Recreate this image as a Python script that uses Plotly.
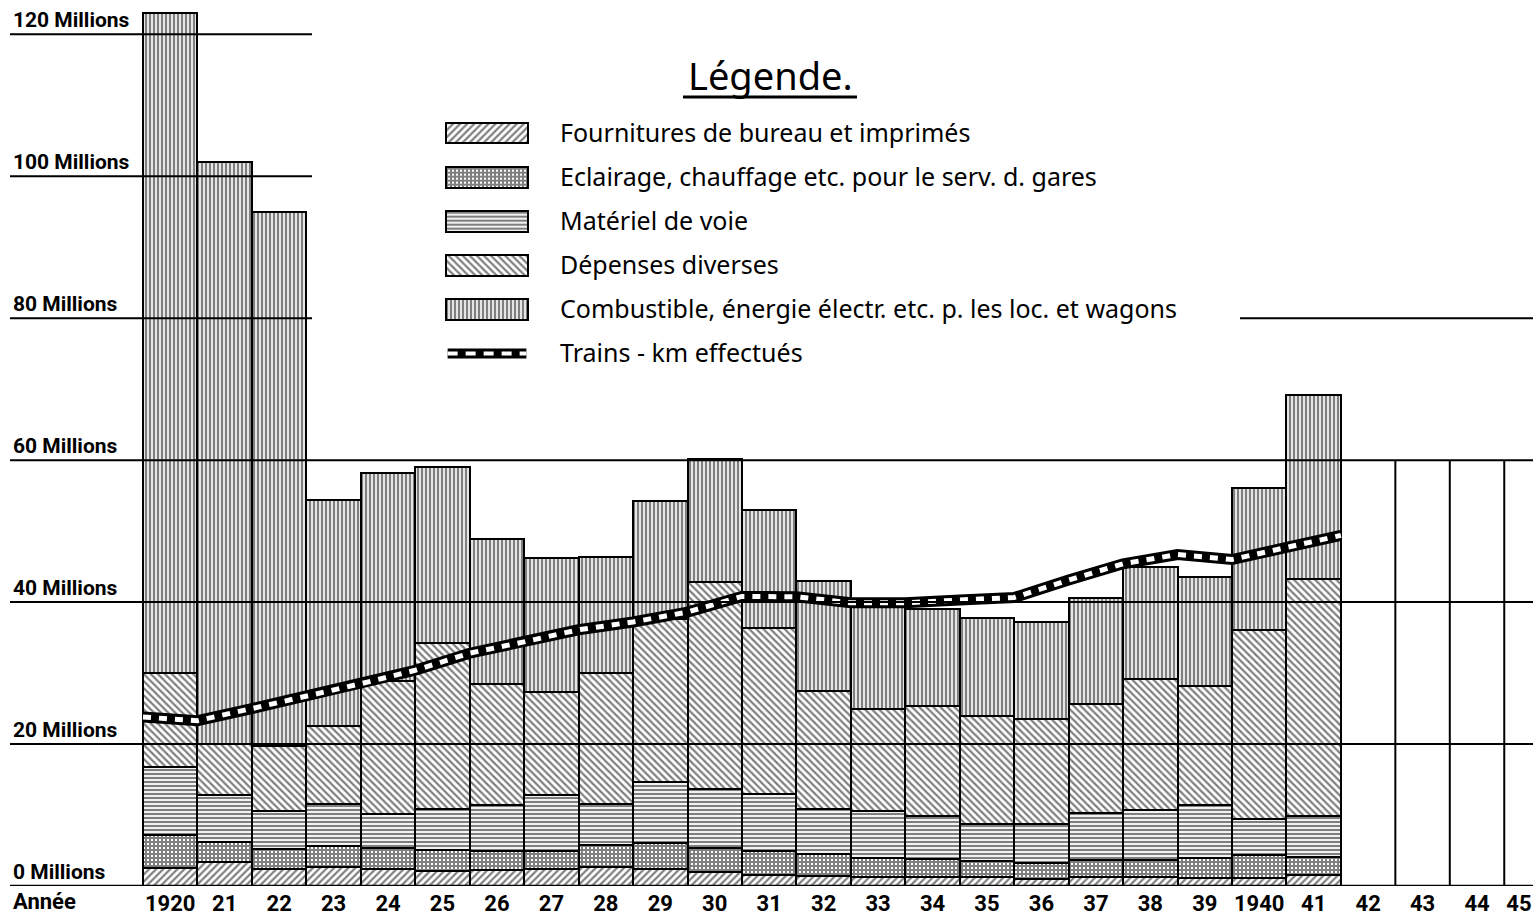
import plotly.graph_objects as go

# ---------------- data (millions) ----------------
years = list(range(1920, 1942))
year_labels = ["1920"] + [str(y)[2:] for y in range(1921, 1940)] + ["1940", "41"]
future_years = [1942, 1943, 1944, 1945]
future_labels = ["42", "43", "44", "45"]

fournitures = [2.6, 3.4, 2.4, 2.7, 2.35, 2.1, 2.25, 2.35, 2.7, 2.35, 2.0,
               1.55, 1.4, 1.3, 1.2, 1.2, 0.95, 1.3, 1.2, 1.1, 1.1, 1.55]
eclairage = [4.6, 2.8, 2.8, 3.0, 2.95, 3.0, 2.65, 2.65, 3.1, 3.75, 3.3,
             3.35, 3.1, 2.7, 2.55, 2.3, 2.25, 2.4, 2.5, 2.8, 3.3, 2.55]
materiel = [9.6, 6.6, 5.3, 5.8, 4.8, 5.8, 6.5, 7.8, 5.7, 8.5, 8.3,
            8.1, 6.4, 6.5, 6.05, 5.3, 5.5, 6.6, 7.0, 7.5, 5.0, 5.7]
depenses = [13.2, 7.2, 9.2, 11.0, 18.8, 23.4, 17.1, 14.6, 18.5, 23.0, 29.2,
            23.3, 16.6, 14.5, 15.6, 15.1, 14.9, 15.4, 18.5, 16.8, 26.7, 33.5]
combustible = [93.0, 82.0, 75.3, 31.9, 29.3, 24.7, 20.4, 18.8, 16.4, 16.7, 17.3,
               16.7, 15.5, 14.3, 13.6, 13.8, 13.6, 14.9, 15.8, 15.4, 20.0, 25.9]

# trains-km, plotted at each year's end (1919 ... 1941), on the same scale
trains_year_end = list(range(1919, 1942))
trains_km = [23.8, 23.3, 25.0, 26.7, 28.5, 30.4, 32.8, 34.4, 36.1, 37.2, 38.6,
             40.8, 40.75, 39.9, 39.9, 40.3, 40.65, 43.1, 45.4, 46.7, 46.0, 47.7, 49.4]

y_ticks = [0, 20, 40, 60, 80, 100, 120]
y_tick_labels = [f"{v} Millions" for v in y_ticks]

names = ["Fournitures de bureau et imprimés",
         "Eclairage, chauffage etc. pour le serv. d. gares",
         "Matériel de voie",
         "Dépenses diverses",
         "Combustible, énergie électr. etc. p. les loc. et wagons"]
trains_name = "Trains - km effectués"

# ---------------- layout geometry ----------------
W, H = 1533, 915
M_B = 29
PLOT_H = H - M_B
PX_PER_YEAR = 54.45
LEFT_EDGE_PX = 143
x_lo = years[0] - 0.5 - LEFT_EDGE_PX / PX_PER_YEAR
x_hi = x_lo + W / PX_PER_YEAR
PX_PER_M = 7.0975
y_hi = PLOT_H / PX_PER_M


def px_x(p):
    return p / W


def px_y(p):
    return (PLOT_H - p) / PLOT_H


styles = [
    dict(shape="/", size=5, solidity=0.45),
    dict(shape="+", size=4, solidity=0.75),
    dict(shape="-", size=4, solidity=0.55),
    dict(shape="\\", size=5, solidity=0.45),
    dict(shape="|", size=4, solidity=0.6),
]
series = [fournitures, eclairage, materiel, depenses, combustible]

fig = go.Figure()
for name, vals, st in zip(names, series, styles):
    fig.add_trace(go.Bar(
        x=years, y=vals, name=name, width=1, showlegend=False,
        marker=dict(color="white",
                    line=dict(color="black", width=2),
                    pattern=dict(shape=st["shape"], fgcolor="black", bgcolor="white",
                                 size=st["size"], solidity=st["solidity"],
                                 fillmode="overlay")),
        hoverinfo="x+y+name"))

trains_x = [y + 0.5 for y in trains_year_end]
fig.add_trace(go.Scatter(x=trains_x, y=trains_km, mode="lines", showlegend=False,
                         line=dict(color="black", width=11), hoverinfo="skip"))
fig.add_trace(go.Scatter(x=trains_x, y=trains_km, mode="lines", name=trains_name,
                         showlegend=False,
                         line=dict(color="white", width=5, dash="8px,8px")))

# ---------------- legend drawn in an inset axis ----------------
legend_rows = names + [trains_name]
for name, st in zip(names, styles):
    fig.add_trace(go.Bar(
        x=[1], y=[name], orientation="h", width=0.47, xaxis="x2", yaxis="y2",
        showlegend=False, hoverinfo="skip",
        marker=dict(color="white", line=dict(color="black", width=2),
                    pattern=dict(shape=st["shape"], fgcolor="black", bgcolor="white",
                                 size=st["size"], solidity=st["solidity"],
                                 fillmode="overlay"))))
fig.add_trace(go.Scatter(x=[0.02, 0.98], y=[trains_name, trains_name], mode="lines",
                         xaxis="x2", yaxis="y2", showlegend=False, hoverinfo="skip",
                         line=dict(color="black", width=10)))
fig.add_trace(go.Scatter(x=[0.02, 0.98], y=[trains_name, trains_name], mode="lines",
                         xaxis="x2", yaxis="y2", showlegend=False, hoverinfo="skip",
                         line=dict(color="white", width=4, dash="10px,8px")))

# ---------------- grid lines drawn over the bars ----------------
shapes = []
grid_extent = {120: [(10, 312)], 100: [(10, 312)], 80: [(10, 312), (1240, W)],
               60: [(10, W)], 40: [(10, W)], 20: [(10, W)], 0: [(10, W)]}
for v in y_ticks:
    for a, b in grid_extent[v]:
        shapes.append(dict(type="line", xref="paper", yref="y", x0=px_x(a), x1=px_x(b),
                           y0=v, y1=v, layer="above",
                           line=dict(color="black", width=2 if v else 2.5)))
# empty columns for the years still to come
for fy in future_years[:-1]:
    shapes.append(dict(type="line", xref="x", yref="y", x0=fy + 0.5, x1=fy + 0.5,
                       y0=0, y1=60, layer="above", line=dict(color="black", width=2)))
# underline of the legend title
shapes.append(dict(type="line", xref="paper", yref="paper", x0=px_x(683), x1=px_x(857),
                   y0=px_y(97), y1=px_y(97), line=dict(color="black", width=3)))

tick_font = dict(family="Roboto, Liberation Sans, sans-serif", size=22, color="black",
                 weight="bold")

fig.update_layout(
    width=W, height=H,
    margin=dict(l=0, r=0, t=0, b=M_B, pad=0),
    paper_bgcolor="white", plot_bgcolor="white",
    barmode="stack", bargap=0,
    shapes=shapes,
    xaxis=dict(range=[x_lo, x_hi], showgrid=False, zeroline=False, showline=False,
               ticks="", tickvals=years + future_years[:-1] + [future_years[-1] - 0.23],
               ticktext=year_labels + future_labels, tickfont=tick_font,
               ticklabelstandoff=2),
    yaxis=dict(range=[0, y_hi], showgrid=False, zeroline=False, showline=False,
               ticks="", tickvals=y_ticks, ticktext=y_tick_labels,
               ticklabelposition="inside top", ticklabelstandoff=10,
               tickfont=dict(family="Roboto, Liberation Sans, sans-serif", size=21,
                             color="black", weight="bold")),
    xaxis2=dict(domain=[px_x(445), px_x(529)], range=[-0.012, 1.012], anchor="y2",
                showgrid=False, zeroline=False, showline=False, showticklabels=False,
                fixedrange=True),
    yaxis2=dict(domain=[px_y(366.3), px_y(110.7)], anchor="x2", type="category",
                categoryarray=legend_rows, categoryorder="array", autorange="reversed",
                side="right", showgrid=False, zeroline=False, showline=False, ticks="",
                ticklabelstandoff=30, fixedrange=True,
                tickfont=dict(family="Noto Sans, sans-serif", size=25, color="black")),
    annotations=[
        dict(text="Légende.", xref="paper", yref="paper", x=px_x(770), y=px_y(75),
             xanchor="center", yanchor="middle", showarrow=False,
             font=dict(family="Noto Sans, sans-serif", size=38, color="black")),
        dict(text="Année", xref="paper", yref="paper", x=px_x(11), y=px_y(901),
             xanchor="left", yanchor="middle", showarrow=False,
             font=dict(family="Roboto, Liberation Sans, sans-serif", size=22,
                       color="black", weight="bold")),
    ],
)

fig.write_html("out.html", config={"displayModeBar": False},
               post_script="document.body.style.margin='0';document.body.style.overflow='hidden';")
